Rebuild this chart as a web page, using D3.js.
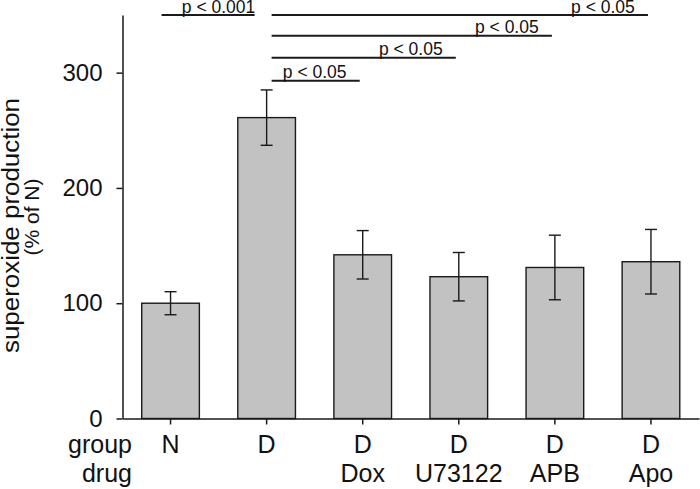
<!DOCTYPE html>
<html>
<head>
<meta charset="utf-8">
<script src="https://cdn.jsdelivr.net/npm/d3@7"></script>
<style>
  html, body { margin: 0; padding: 0; background: #fff; }
  svg { display: block; font-family: "Liberation Sans", Arial, Helvetica, sans-serif; }
</style>
</head>
<body>
<svg id="chart" width="700" height="489"></svg>
<script>
// ---- data ----
const groups = ["N", "D", "D", "D", "D", "D"];
const drugs = ["", "", "Dox", "U73122", "APB", "Apo"];
const means = [100, 261, 142, 123, 131, 136];
const errors = [10, 24, 21, 21, 28, 28];
const yTicks = [0, 100, 200, 300];
const sigFrom = [0, 1, 1, 1, 1];
const sigTo = [1, 5, 4, 3, 2];
const sigLabels = ["p < 0.001", "p < 0.05", "p < 0.05", "p < 0.05", "p < 0.05"];
const sigLevels = [350, 350, 332, 313, 293];
const yTitle = "superoxide production";
const ySubTitle = "(% of N)";
const rowLabels = ["group", "drug"];

// ---- layout ----
const svg = d3.select("#chart");
const mLeft = 122.5, mRight = 699, mTop = 15, mBottom = 418.5;
const idx = d3.range(groups.length);

const x = d3.scaleBand().domain(idx).range([mLeft, mRight]).paddingInner(0.4).paddingOuter(0.2);
const y = d3.scaleLinear().domain([0, 350]).range([mBottom, mTop]);
const cx = i => x(i) + x.bandwidth() / 2;

// bars
svg.append("g").selectAll("rect").data(idx).join("rect")
  .attr("x", i => x(i))
  .attr("y", i => y(means[i]))
  .attr("width", x.bandwidth())
  .attr("height", i => y(0) - y(means[i]))
  .attr("fill", "#c2c2c2")
  .attr("stroke", "#1a1a1a")
  .attr("stroke-width", 1.4);

// error bars
const eb = svg.append("g").attr("stroke", "#1a1a1a").attr("stroke-width", 1.4);
idx.forEach(i => {
  const hi = y(means[i] + errors[i]), lo = y(means[i] - errors[i]);
  eb.append("line").attr("x1", cx(i)).attr("x2", cx(i)).attr("y1", hi).attr("y2", lo);
  eb.append("line").attr("x1", cx(i) - 6).attr("x2", cx(i) + 6).attr("y1", hi).attr("y2", hi);
  eb.append("line").attr("x1", cx(i) - 6).attr("x2", cx(i) + 6).attr("y1", lo).attr("y2", lo);
});

// y axis
const yAxis = svg.append("g").attr("transform", `translate(${mLeft},0)`)
  .call(d3.axisLeft(y).tickValues(yTicks).tickSize(6).tickSizeOuter(0).tickPadding(14));
yAxis.attr("font-family", null).attr("font-size", null);
yAxis.selectAll("text").attr("font-size", 24).attr("fill", "#111");
yAxis.selectAll("line, path").attr("stroke", "#1a1a1a").attr("stroke-width", 1.5);

// x axis
const xAxis = svg.append("g").attr("transform", `translate(0,${mBottom})`)
  .call(d3.axisBottom(x).tickSize(6).tickSizeOuter(0).tickFormat(""));
xAxis.selectAll("line, path").attr("stroke", "#1a1a1a").attr("stroke-width", 1.5);

// category labels
const lab = svg.append("g").attr("font-size", 25).attr("fill", "#111");
lab.selectAll("text.g").data(idx).join("text").attr("class", "g")
  .attr("x", i => cx(i)).attr("y", 453).attr("text-anchor", "middle").text(i => groups[i]);
lab.selectAll("text.d").data(idx.filter(i => drugs[i] !== "")).join("text").attr("class", "d")
  .attr("x", i => cx(i)).attr("y", 481.5).attr("text-anchor", "middle").text(i => drugs[i]);
lab.append("text").attr("x", 132).attr("y", 453).attr("text-anchor", "end").text(rowLabels[0]);
lab.append("text").attr("x", 132).attr("y", 481.5).attr("text-anchor", "end").text(rowLabels[1]);

// y titles
svg.append("text")
  .attr("transform", "translate(19,225.5) rotate(-90)")
  .attr("text-anchor", "middle").attr("font-size", 23).attr("fill", "#111")
  .attr("textLength", 255).attr("lengthAdjust", "spacingAndGlyphs")
  .text(yTitle);
svg.append("text")
  .attr("transform", "translate(38.5,217) rotate(-90)")
  .attr("text-anchor", "middle").attr("font-size", 21).attr("fill", "#111")
  .text(ySubTitle);

// significance annotations
const sg = svg.append("g");
sigFrom.forEach((f, k) => {
  const t = sigTo[k];
  const ly = y(sigLevels[k]);
  const x1 = f === 0 ? cx(f) - 9 : cx(f) + 5;
  const x2 = f === 0 ? cx(t) - 12 : cx(t) - 3;
  sg.append("line").attr("x1", x1).attr("x2", x2).attr("y1", ly).attr("y2", ly)
    .attr("stroke", "#1a1a1a").attr("stroke-width", 2);
  sg.append("text")
    .attr("x", (cx(t) + cx(t - 1)) / 2).attr("y", ly - 2.5)
    .attr("text-anchor", "middle").attr("font-size", 17.5).attr("fill", "#111")
    .text(sigLabels[k]);
});
</script>
</body>
</html>
